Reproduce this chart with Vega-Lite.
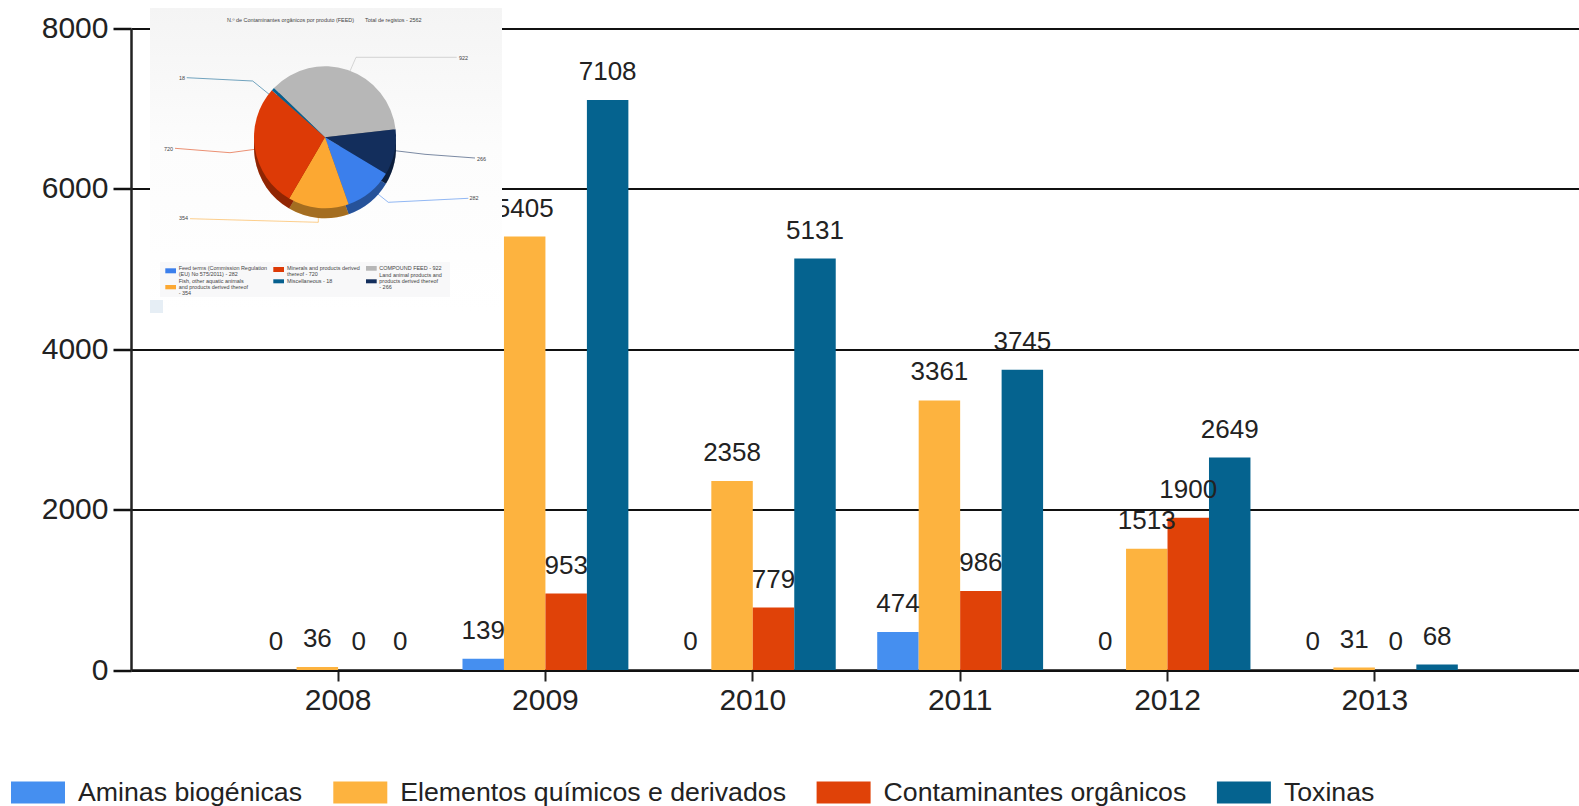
{"$schema":"https://vega.github.io/schema/vega-lite/v6.json","width":1448,"height":641.5,"autosize":{"type":"none"},"padding":{"left":131,"top":28.5,"right":0,"bottom":136},"background":"white","config":{"view":{"stroke":null},"text":{"font":"Liberation Sans"},"axis":{"labelFont":"Liberation Sans","titleFont":"Liberation Sans"},"legend":{"labelFont":"Liberation Sans"}},"layer":[{"data":{"values":[{"ano":"2008","serie":"Aminas biogénicas","valor":0},{"ano":"2008","serie":"Elementos químicos e derivados","valor":36},{"ano":"2008","serie":"Contaminantes orgânicos","valor":0},{"ano":"2008","serie":"Toxinas","valor":0},{"ano":"2009","serie":"Aminas biogénicas","valor":139},{"ano":"2009","serie":"Elementos químicos e derivados","valor":5405},{"ano":"2009","serie":"Contaminantes orgânicos","valor":953},{"ano":"2009","serie":"Toxinas","valor":7108},{"ano":"2010","serie":"Aminas biogénicas","valor":0},{"ano":"2010","serie":"Elementos químicos e derivados","valor":2358},{"ano":"2010","serie":"Contaminantes orgânicos","valor":779},{"ano":"2010","serie":"Toxinas","valor":5131},{"ano":"2011","serie":"Aminas biogénicas","valor":474},{"ano":"2011","serie":"Elementos químicos e derivados","valor":3361},{"ano":"2011","serie":"Contaminantes orgânicos","valor":986},{"ano":"2011","serie":"Toxinas","valor":3745},{"ano":"2012","serie":"Aminas biogénicas","valor":0},{"ano":"2012","serie":"Elementos químicos e derivados","valor":1513},{"ano":"2012","serie":"Contaminantes orgânicos","valor":1900},{"ano":"2012","serie":"Toxinas","valor":2649},{"ano":"2013","serie":"Aminas biogénicas","valor":0},{"ano":"2013","serie":"Elementos químicos e derivados","valor":31},{"ano":"2013","serie":"Contaminantes orgânicos","valor":0},{"ano":"2013","serie":"Toxinas","valor":68}]},"encoding":{"x":{"field":"ano","type":"nominal","scale":{"type":"band","paddingInner":0.2,"paddingOuter":0.5915,"align":0.506},"axis":{"title":null,"labelAngle":0,"labelFontSize":30,"labelColor":"#222","labelPadding":4,"tickSize":11,"tickWidth":2,"tickColor":"#222","domainColor":"#111","domainWidth":2.5}},"xOffset":{"field":"serie","sort":["Aminas biogénicas","Elementos químicos e derivados","Contaminantes orgânicos","Toxinas"]},"y":{"field":"valor","type":"quantitative","scale":{"domain":[0,8000],"nice":false},"axis":{"title":null,"values":[0,2000,4000,6000,8000],"labelFontSize":30,"labelColor":"#222","labelPadding":5,"tickSize":18,"tickWidth":2.5,"tickColor":"#111","domainColor":"#222","domainWidth":2.5,"grid":true,"gridColor":"#111","gridWidth":2,"format":"d"}}},"layer":[{"mark":{"type":"bar","stroke":null},"encoding":{"color":{"field":"serie","type":"nominal","scale":{"domain":["Aminas biogénicas","Elementos químicos e derivados","Contaminantes orgânicos","Toxinas"],"range":["#458ff0","#fdb33f","#e04208","#05638f"]},"legend":{"title":null,"orient":"none","legendX":-120,"legendY":737,"direction":"horizontal","columns":4,"gridAlign":"none","columnPadding":30.3,"symbolType":"M-1,-0.407H1V0.407H-1Z","symbolSize":2916,"symbolStrokeWidth":0,"labelFontSize":26.7,"labelColor":"#222","labelOffset":13,"labelLimit":500}}}},{"mark":{"type":"text","fontSize":26,"color":"#222","baseline":"middle","align":"center","dy":-28},"encoding":{"text":{"field":"valor","type":"quantitative","format":"d"}}}]},{"layer":[{"data":{"values":[{"u0":0,"u1":352,"v0":0,"v1":305}]},"mark":{"type":"rect","fill":{"gradient":"linear","x1":0,"y1":0,"x2":0,"y2":1,"stops":[{"offset":0,"color":"#f4f4f4"},{"offset":0.45,"color":"#fcfcfc"},{"offset":1,"color":"#ffffff"}]}},"encoding":{"x":{"field":"u0","type":"quantitative","scale":{"domain":[-19,1429],"nice":false,"zero":false},"axis":null},"x2":{"field":"u1"},"y":{"field":"v0","type":"quantitative","scale":{"domain":[20.5,662],"reverse":true,"nice":false,"zero":false},"axis":null},"y2":{"field":"v1"}}},{"data":{"values":[{"u0":0,"u1":13,"v0":292,"v1":305}]},"mark":{"type":"rect","fill":"#e6eef5"},"encoding":{"x":{"field":"u0","type":"quantitative"},"x2":{"field":"u1"},"y":{"field":"v0","type":"quantitative"},"y2":{"field":"v1"}}},{"data":{"values":[{"u0":10,"u1":300,"v0":254,"v1":289}]},"mark":{"type":"rect","fill":"#f8f8f9"},"encoding":{"x":{"field":"u0","type":"quantitative"},"x2":{"field":"u1"},"y":{"field":"v0","type":"quantitative"},"y2":{"field":"v1"}}},{"data":{"values":[{"p":"Miscellaneous","ord":1,"u":36.7,"v":69.7},{"p":"Miscellaneous","ord":2,"u":102.7,"v":73},{"p":"Miscellaneous","ord":3,"u":120,"v":87},{"p":"COMPOUND FEED","ord":1,"u":306.7,"v":49.3},{"p":"COMPOUND FEED","ord":2,"u":206,"v":49.3},{"p":"COMPOUND FEED","ord":3,"u":198.3,"v":67},{"p":"Land animal products","ord":1,"u":325,"v":150},{"p":"Land animal products","ord":2,"u":275,"v":146.3},{"p":"Land animal products","ord":3,"u":245,"v":142.7},{"p":"Feed terms","ord":1,"u":318.3,"v":190.3},{"p":"Feed terms","ord":2,"u":238.3,"v":194.3},{"p":"Feed terms","ord":3,"u":225,"v":183.7},{"p":"Fish","ord":1,"u":40,"v":210.7},{"p":"Fish","ord":2,"u":168.3,"v":214.3},{"p":"Fish","ord":3,"u":168.3,"v":205.3},{"p":"Minerals","ord":1,"u":25,"v":140.3},{"p":"Minerals","ord":2,"u":80,"v":144.7},{"p":"Minerals","ord":3,"u":105,"v":141.3}]},"mark":{"type":"line","strokeWidth":0.8,"opacity":0.7},"encoding":{"x":{"field":"u","type":"quantitative"},"y":{"field":"v","type":"quantitative"},"order":{"field":"ord"},"color":{"field":"p","type":"nominal","legend":null,"scale":{"domain":["COMPOUND FEED","Land animal products","Feed terms","Fish","Minerals","Miscellaneous"],"range":["#b7b7b7","#132e5c","#3b7fec","#fca832","#dd3a06","#06608f"]}}}},{"data":{"name":"pie","values":[{"p":"COMPOUND FEED","n":922,"ord":1},{"p":"Land animal products","n":266,"ord":2},{"p":"Feed terms","n":282,"ord":3},{"p":"Fish","n":354,"ord":4},{"p":"Minerals","n":720,"ord":5},{"p":"Miscellaneous","n":18,"ord":6}]},"mark":{"type":"arc","radius":71,"yOffset":10},"encoding":{"x":{"datum":175,"type":"quantitative"},"y":{"datum":129.3,"type":"quantitative"},"theta":{"field":"n","type":"quantitative","stack":true,"scale":{"domain":[0,2562],"range":[-0.8029,5.4803]}},"order":{"field":"ord"},"color":{"field":"p","type":"nominal","legend":null}}},{"data":{"name":"pie"},"mark":{"type":"arc","radius":71,"yOffset":10,"fill":"#000000","opacity":0.35},"encoding":{"x":{"datum":175,"type":"quantitative"},"y":{"datum":129.3,"type":"quantitative"},"theta":{"field":"n","type":"quantitative","stack":true},"order":{"field":"ord"}}},{"data":{"name":"pie"},"mark":{"type":"arc","radius":71},"encoding":{"x":{"datum":175,"type":"quantitative"},"y":{"datum":129.3,"type":"quantitative"},"theta":{"field":"n","type":"quantitative","stack":true},"order":{"field":"ord"},"color":{"field":"p","type":"nominal","legend":null}}},{"data":{"values":[{"p":"Feed terms","u0":15.3,"u1":26,"v0":260.3,"v1":265.3},{"p":"Fish","u0":15.3,"u1":26,"v0":277,"v1":281.3},{"p":"Minerals","u0":123.3,"u1":134,"v0":259,"v1":264},{"p":"Miscellaneous","u0":123.3,"u1":134,"v0":271.3,"v1":275.3},{"p":"COMPOUND FEED","u0":216,"u1":226.7,"v0":258,"v1":262.7},{"p":"Land animal products","u0":216,"u1":226.7,"v0":271.3,"v1":275.3}]},"mark":{"type":"rect"},"encoding":{"x":{"field":"u0","type":"quantitative"},"x2":{"field":"u1"},"y":{"field":"v0","type":"quantitative"},"y2":{"field":"v1"},"color":{"field":"p","type":"nominal","legend":null}}},{"data":{"values":[{"t":"N.º de Contaminantes orgânicos por produto (FEED)","u":77,"v":12},{"t":"Total de registos - 2562","u":215,"v":12},{"t":"18","u":29,"v":69.7},{"t":"922","u":309,"v":49.7},{"t":"266","u":327,"v":150.7},{"t":"282","u":319.5,"v":190},{"t":"354","u":29,"v":210.3},{"t":"720","u":14,"v":140.7},{"t":"Feed terms (Commission Regulation","u":28.7,"v":259.7},{"t":"(EU) No 575/2011) - 282","u":28.7,"v":265.7},{"t":"Fish, other aquatic animals","u":28.7,"v":273},{"t":"and products derived thereof","u":28.7,"v":279},{"t":"- 354","u":28.7,"v":285},{"t":"Minerals and products derived","u":137,"v":259.7},{"t":"thereof - 720","u":137,"v":265.7},{"t":"Miscellaneous - 18","u":137,"v":273},{"t":"COMPOUND FEED - 922","u":229.3,"v":259.7},{"t":"Land animal products and","u":229.3,"v":267},{"t":"products derived thereof","u":229.3,"v":273},{"t":"- 266","u":229.3,"v":279}]},"mark":{"type":"text","fontSize":5.45,"color":"#444","align":"left","baseline":"middle"},"encoding":{"x":{"field":"u","type":"quantitative"},"y":{"field":"v","type":"quantitative"},"text":{"field":"t"}}}]}],"resolve":{"scale":{"x":"independent","y":"independent","color":"independent"},"axis":{"x":"independent","y":"independent"},"legend":{"color":"independent"}}}
